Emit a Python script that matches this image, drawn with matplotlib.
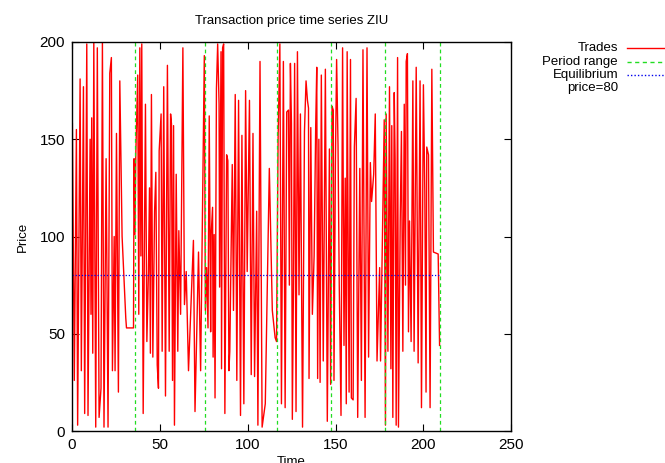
import matplotlib
matplotlib.use("Agg")
import matplotlib.pyplot as plt
from matplotlib.lines import Line2D

plt.rcParams['font.family'] = ['Liberation Sans', 'DejaVu Sans']

# trade times and transaction prices
times = [0.2, 1.3, 2.5, 3.2, 4.6, 5.3, 6.5, 7.2, 8.4, 9.1, 10.3, 10.8, 11.2, 11.8, 12.4,
         13.5, 14.4, 15.4, 16.5, 17.3, 18.2, 19.4, 20.5, 21.5, 22.4, 23.0, 24.0, 24.5,
         25.3, 26.4, 27.2, 28.5, 30.6, 31.0, 35.0,
         35.3, 35.8, 36.3, 37.4, 38.0, 38.6, 39.2, 39.7, 40.5, 41.8, 42.6, 43.5, 44.1,
         44.6, 45.2, 46.0, 47.0, 47.7, 48.5, 49.2, 49.6, 50.7, 51.3, 52.2, 53.2, 54.3,
         55.3, 56.1, 56.6, 57.2, 57.8, 58.3, 59.3, 60.2, 60.8, 61.8, 63.1, 64.0, 65.0,
         66.3, 69.1, 70.0, 72.0, 73.2, 75.3,
         75.9, 76.6, 77.4, 78.1, 78.9, 79.2, 80.0, 80.3, 80.9, 81.4, 82.2, 82.9, 83.7,
         84.0, 84.8, 85.1, 85.7, 86.3, 87.0, 88.0, 88.7, 89.3, 89.8, 91.2, 91.9, 92.9,
         93.8, 94.8, 95.9, 96.7, 97.8, 98.8, 99.7, 101.0, 102.0, 103.0, 103.9, 105.1,
         105.8, 107.0, 108.2, 110.0, 112.3, 114.0, 115.6, 116.4,
         117.3, 118.3, 119.2, 120.3, 121.3, 122.2, 123.2, 123.7, 124.3, 124.9, 125.4,
         126.0, 126.7, 127.5, 128.3, 129.2, 130.0, 131.2, 132.3, 133.2, 134.0, 134.6,
         134.9, 135.9, 136.8, 137.8, 138.7, 139.3, 139.8, 140.5, 141.2, 141.9, 143.0,
         144.2, 145.3, 146.5,
         147.2, 148.0, 148.7, 149.1, 149.9, 150.6, 151.4, 152.1, 153.1, 154.0, 154.8,
         155.5, 156.1, 156.6, 157.2, 157.7, 158.5, 159.0, 160.0, 160.7, 161.7, 162.6,
         163.8, 164.7, 165.6, 166.8, 167.9, 168.8, 169.8, 170.5, 171.7, 172.6, 173.6,
         174.5, 175.1, 175.6, 177.7,
         178.4, 178.8, 179.8, 180.7, 181.5, 182.0, 182.6, 183.4, 183.9, 184.5, 185.3,
         185.8, 186.8, 187.5, 188.3, 189.1, 189.8, 190.2, 190.9, 191.5, 192.1, 193.0,
         194.0, 194.7, 195.9, 197.0, 198.1, 198.9, 200.0, 200.8, 201.5, 201.9, 202.9,
         203.8, 204.8, 205.7, 208.4, 209.2]
prices = [158, 26, 155, 3, 181, 31, 177, 9, 199, 8, 150, 60, 161, 40, 200,
          2, 197, 7, 22, 200, 2, 140, 2, 184, 192, 31, 100, 31,
          153, 20, 180, 100, 58, 53, 53,
          140, 101, 142, 183, 60, 197, 90, 199, 9, 168, 46, 82, 125,
          40, 173, 38, 113, 133, 34, 22, 144, 163, 41, 177, 18, 188,
          41, 163, 158, 26, 157, 3, 132, 41, 103, 60, 197, 65, 82,
          31, 98, 10, 92, 31, 193,
          62, 84, 53, 162, 51, 101, 115, 38, 101, 17, 176, 199, 168,
          74, 195, 32, 197, 199, 9, 142, 139, 31, 41, 137, 62, 173,
          26, 170, 8, 152, 14, 175, 82, 170, 29, 153, 28, 113,
          3, 190, 2, 14, 135, 62, 48, 46,
          151, 199, 14, 190, 12, 164, 165, 75, 189, 158, 6,
          71, 189, 10, 195, 70, 163, 2, 154, 180, 170, 166,
          27, 156, 60, 90, 157, 187, 27, 150, 25, 183, 36,
          186, 5, 145,
          24, 167, 165, 26, 137, 191, 147, 75, 8, 197, 44,
          130, 14, 195, 91, 20, 191, 17, 16, 146, 171, 7,
          135, 26, 196, 7, 197, 38, 138, 118, 132, 163, 36,
          65, 84, 36, 160,
          3, 163, 41, 177, 32, 157, 7, 174, 140, 3, 192,
          2, 108, 154, 41, 168, 75, 190, 194, 51, 108, 46,
          180, 41, 187, 35, 180, 12, 178, 123, 20, 146, 142,
          12, 186, 92, 91, 44]

# period boundaries and equilibrium price
period_ends = [36, 75.5, 116.5, 147.2, 178.2, 209.2]
equilibrium = 80
eq_span = [0, 209.2]

fig = plt.figure(figsize=(6.65, 4.63), dpi=100)
ax = fig.add_axes([0.1083, 0.0691, 0.6605, 0.8402])

ax.plot(times, prices, color='#ff0000', lw=1.0)
for p in period_ends:
    ax.axvline(p, color='#22dd22', lw=0.9, ls=(0, (3, 2.5)))
ax.plot(eq_span, [equilibrium, equilibrium], color='#0000ee', lw=0.9, ls=(0, (1, 1.5)))

ax.set_xlim(0, 250)
ax.set_ylim(0, 200)
ax.set_xticks([0, 50, 100, 150, 200, 250])
ax.set_yticks([0, 50, 100, 150, 200])
ax.tick_params(direction='in', length=5, width=0.8, top=True, right=True,
               labelsize=11, pad=5)
for s in ax.spines.values():
    s.set_linewidth(1.0)

ax.set_title('Transaction price time series ZIU', fontsize=9.5, pad=13)
ax.set_xlabel('Time', fontsize=9.5, labelpad=3)
ax.set_ylabel('Price', fontsize=9.5, labelpad=8)

# legend drawn at the right, text right-aligned before the line sample
W, H = 665.0, 463.0
entries = [('Trades', '#ff0000', '-', 48),
           ('Period range', '#22dd22', (0, (3, 2.5)), 62),
           ('Equilibrium', '#0000ee', (0, (1, 1.5)), 75)]
for label, col, ls, ypx in entries:
    fig.text(618 / W, 1 - ypx / H, label, ha='right', va='center', fontsize=9.5)
    fig.add_artist(Line2D([627 / W, 672 / W], [1 - ypx / H, 1 - ypx / H],
                          color=col, ls=ls, lw=1.0, transform=fig.transFigure))
fig.text(618 / W, 1 - 88 / H, 'price=80', ha='right', va='center', fontsize=9.5)

fig.savefig('out.png', dpi=100)
